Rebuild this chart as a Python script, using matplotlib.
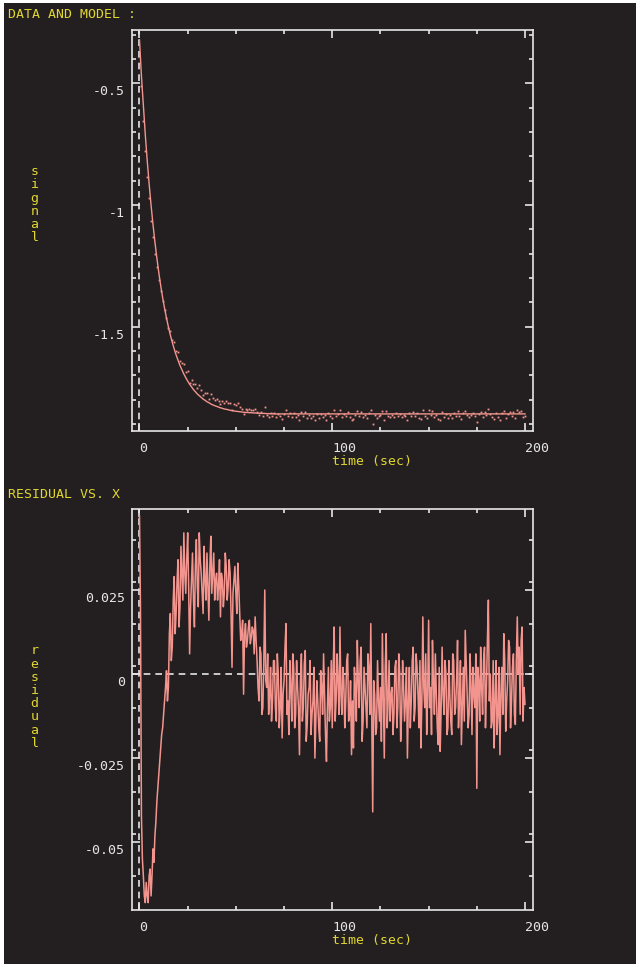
import numpy as np
import matplotlib
matplotlib.use('Agg')
import matplotlib.pyplot as plt
import matplotlib.transforms as mtransforms
from matplotlib.patches import Rectangle

plt.rcParams['font.family'] = ['DejaVu Sans Mono']

#######################################
# data
#######################################

# sample times: whole seconds for the signal dots, half seconds for the residual trace
time = np.arange(0, 201)
time_fine = np.arange(0, 401) * 0.5

# fitted model (signal) for t = 0..70, flat after that
model_early = [
  -0.322, -0.470, -0.593, -0.710, -0.817, -0.913, -1.001, -1.080, -1.152, -1.217,
  -1.277, -1.331, -1.380, -1.424, -1.464, -1.501, -1.534, -1.564, -1.591, -1.616,
  -1.638, -1.659, -1.677, -1.694, -1.709, -1.723, -1.736, -1.747, -1.758, -1.767,
  -1.776, -1.783, -1.790, -1.797, -1.802, -1.808, -1.812, -1.817, -1.821, -1.824,
  -1.827, -1.830, -1.833, -1.835, -1.838, -1.839, -1.841, -1.843, -1.844, -1.846,
  -1.847, -1.848, -1.849, -1.850, -1.851, -1.852, -1.852, -1.853, -1.853, -1.854,
  -1.854, -1.855, -1.855, -1.856, -1.856, -1.856, -1.857, -1.857, -1.857, -1.857,
  -1.858]
model_plateau = [-1.858] * 130
model = np.array(model_early + model_plateau)

# residual (data - model) at whole seconds
resid = np.array([
  0.047, -0.042, -0.060, -0.068, -0.066, -0.060, -0.066, -0.052, -0.048, -0.038,
  -0.030, -0.022, -0.016, -0.008, 0.001, -0.004, 0.018, 0.008, 0.029, 0.018,
  0.034, 0.020, 0.030, 0.042, 0.024, 0.042, 0.006, 0.028, 0.022, 0.032,
  0.026, 0.042, 0.030, 0.018, 0.028, 0.036, 0.016, 0.041, 0.030, 0.022,
  0.030, 0.026, 0.017, 0.028, 0.024, 0.032, 0.026, 0.030, 0.002, 0.028,
  0.024, 0.033, 0.018, 0.012, -0.006, 0.015, 0.010, 0.016, 0.011, 0.013,
  0.017, 0.004, -0.008, 0.006, -0.010, 0.025, -0.004, -0.012, 0.002, -0.008,
  0.004, -0.014, 0.000, -0.010, -0.019, -0.002, 0.015, -0.008, 0.004, -0.014,
  0.002, -0.012, -0.004, -0.024, 0.006, -0.010, 0.007, -0.015, -0.004, -0.018,
  -0.008, -0.025, -0.002, -0.016, 0.001, -0.012, -0.006, -0.026, 0.002, -0.010,
  -0.016, 0.014, -0.008, -0.002, 0.014, -0.012, -0.002, -0.008, 0.006, -0.012,
  -0.024, -0.022, -0.004, 0.010, -0.010, 0.008, -0.014, -0.004, -0.016, 0.002,
  0.015, -0.041, -0.006, -0.016, -0.008, -0.004, 0.012, -0.025, 0.012, -0.008,
  -0.014, -0.004, -0.012, 0.004, -0.010, 0.000, -0.012, -0.004, -0.008, -0.025,
  0.002, -0.008, 0.008, -0.010, 0.002, -0.016, -0.022, 0.017, -0.010, -0.018,
  0.016, -0.004, 0.010, -0.012, -0.006, -0.021, -0.023, 0.008, -0.012, 0.000,
  -0.016, -0.006, -0.018, 0.004, -0.010, 0.010, -0.008, -0.021, 0.002, 0.013,
  -0.006, -0.012, -0.004, 0.002, -0.010, -0.034, -0.002, 0.008, -0.012, 0.008,
  -0.004, 0.022, 0.000, -0.014, -0.022, 0.004, -0.012, -0.024, 0.002, 0.012,
  -0.017, -0.002, 0.008, -0.008, 0.006, -0.015, 0.017, 0.008, 0.010, -0.014,
  -0.009])

# residual at the half seconds in between (t = 0.5 .. 199.5)
resid_half = np.array([
  0.020, -0.055, -0.066, -0.062, -0.068, -0.058, -0.060, -0.056, -0.044, -0.034,
  -0.026, -0.018, -0.012, -0.004, -0.008, 0.012, 0.004, 0.022, 0.012, 0.028,
  0.014, 0.038, 0.022, 0.030, 0.034, 0.026, 0.020, 0.036, 0.014, 0.040,
  0.020, 0.034, 0.024, 0.038, 0.022, 0.026, 0.032, 0.024, 0.036, 0.028,
  0.022, 0.034, 0.030, 0.020, 0.036, 0.022, 0.034, 0.018, 0.024, 0.032,
  0.018, 0.026, 0.010, 0.016, 0.012, 0.008, 0.014, 0.009, 0.014, 0.006,
  0.010, -0.004, 0.008, -0.012, 0.004, -0.002, 0.006, -0.006, -0.014, 0.004,
  -0.010, 0.006, -0.016, 0.002, -0.006, 0.008, -0.012, -0.018, -0.004, 0.006,
  -0.016, 0.004, -0.010, -0.002, -0.014, 0.003, -0.020, -0.006, 0.004, -0.012,
  0.002, -0.014, -0.008, -0.020, -0.004, 0.006, -0.018, -0.010, -0.014, 0.004,
  0.002, -0.014, 0.006, -0.012, -0.006, 0.002, -0.016, 0.004, -0.014, -0.002,
  -0.008, 0.002, -0.014, -0.002, 0.004, -0.020, 0.002, -0.010, 0.006, -0.012,
  -0.012, -0.002, -0.018, 0.004, -0.014, -0.020, -0.006, 0.002, -0.016, 0.004,
  -0.006, -0.018, 0.002, -0.016, 0.006, -0.020, 0.004, -0.014, 0.002, -0.008,
  -0.016, 0.004, -0.014, 0.006, -0.006, 0.004, -0.008, -0.004, 0.006, -0.006,
  -0.010, -0.018, -0.002, 0.006, -0.016, 0.002, -0.010, -0.006, 0.004, -0.018,
  0.004, -0.014, 0.006, -0.012, -0.002, -0.016, 0.004, -0.010, -0.014, 0.004,
  -0.016, 0.006, -0.018, -0.006, 0.006, 0.002, -0.014, -0.004, 0.004, -0.016,
  0.010, -0.008, -0.016, 0.004, -0.008, -0.018, 0.002, -0.006, -0.012, 0.004,
  -0.008, 0.010, -0.016, 0.002, -0.012, 0.004, 0.000, -0.012, 0.014, -0.004])

# full residual trace, whole and half seconds in time order
resid_fine = np.empty(len(time_fine))
resid_fine[0::2] = resid
resid_fine[1::2] = resid_half

# measured signal = model + residual
signal = model + resid

# ticks
x_major = [0, 100, 200]
x_major_labels = ['0', '100', '200']
x_minor = [25, 50, 75, 125, 150, 175]
sig_major = [-0.5, -1.0, -1.5]
sig_major_labels = ['-0.5', '-1', '-1.5']
sig_minor = [-0.3, -0.4, -0.6, -0.7, -0.8, -0.9, -1.1, -1.2, -1.3, -1.4, -1.6, -1.7, -1.8, -1.9]
res_major = [0.025, 0.0, -0.025, -0.05]
res_major_labels = ['0.025', '0', '-0.025', '-0.05']
res_minor = [0.0399, 0.0274, 0.0149, 0.0024, -0.0101, -0.0226, -0.0351, -0.0476, -0.0601]

#######################################
# colours
#######################################
bg = '#231f20'
frame = '#e6e6e6'
yellow = '#e0d630'
salmon = '#f3958e'
fs = 9.5


def style_axes(ax, yticks, ylabels, yminor):
  # dark panel with white frame and inward ticks on all four sides
  ax.set_facecolor(bg)
  for s in ax.spines.values():
    s.set_color(frame)
    s.set_linewidth(1.2)
  ax.set_xlim(-3.74, 204.15)
  ax.set_xticks(x_major)
  ax.set_xticklabels(x_major_labels, ha='left')
  ax.set_xticks(x_minor, minor=True)
  ax.set_yticks(yticks)
  ax.set_yticklabels(ylabels)
  ax.set_yticks(yminor, minor=True)
  ax.tick_params(which='both', direction='in', top=True, right=True, color=frame,
                 labelcolor=frame, labelsize=fs, width=1.2)
  ax.tick_params(which='major', length=5.5)
  ax.tick_params(which='minor', length=3)
  ax.tick_params(axis='x', pad=8)
  ax.tick_params(axis='y', pad=5.5)
  # y labels sit a little below their ticks in the original
  off = mtransforms.ScaledTranslation(0, -7/100., ax.figure.dpi_scale_trans)
  for lab in ax.get_yticklabels():
    lab.set_transform(lab.get_transform() + off)
  ax.axvline(0, color=frame, lw=1.2, ls=(0, (4, 3)), zorder=1)


def stacked_label(fig, text, y_center_px):
  # vertical axis label: one letter per line, not rotated
  step = 13.2
  n = len(text)
  for i, ch in enumerate(text):
    y = y_center_px + (i - (n - 1) / 2.) * step
    fig.text(34.5/640., 1 - y/967., ch, color=yellow, fontsize=fs, ha='center', va='center')


fig = plt.figure(figsize=(6.4, 9.67), dpi=100)
fig.patch.set_facecolor('white')
fig.add_artist(Rectangle((4/640., 3/967.), 632/640., 961/967., transform=fig.transFigure,
                         facecolor=bg, edgecolor='none', zorder=-10))

# top panel: data and model
ax1 = fig.add_axes([0.2067, 0.5546, 0.6261, 0.4144])
ax1.set_ylim(-1.927, -0.281)
style_axes(ax1, sig_major, sig_major_labels, sig_minor)
ax1.plot(time, model, color=salmon, lw=1.0, zorder=3)
ax1.plot(time, signal, ls='none', marker='s', ms=1.3, mew=0, color=salmon, zorder=3)

# bottom panel: residual
ax2 = fig.add_axes([0.2067, 0.0589, 0.6261, 0.4144])
ax2.set_ylim(-0.0702, 0.0490)
style_axes(ax2, res_major, res_major_labels, res_minor)
ax2.axhline(0, color=frame, lw=1.2, ls=(0, (4, 3)), zorder=1)
ax2.plot(time_fine, resid_fine, color=salmon, lw=1.1, zorder=3)

# titles and axis labels
fig.text(8/640., 1 - 15/967., 'DATA AND MODEL :', color=yellow, fontsize=fs, ha='left', va='center')
fig.text(8/640., 1 - 494/967., 'RESIDUAL VS. X', color=yellow, fontsize=fs, ha='left', va='center')
fig.text(331.5/640., 1 - 461.5/967., 'time (sec)', color=yellow, fontsize=fs, ha='left', va='center')
fig.text(331.5/640., 1 - 940.7/967., 'time (sec)', color=yellow, fontsize=fs, ha='left', va='center')
stacked_label(fig, 'signal', 204.7)
stacked_label(fig, 'residual', 697.0)

plt.savefig('out.png', dpi=100, facecolor=fig.get_facecolor())
